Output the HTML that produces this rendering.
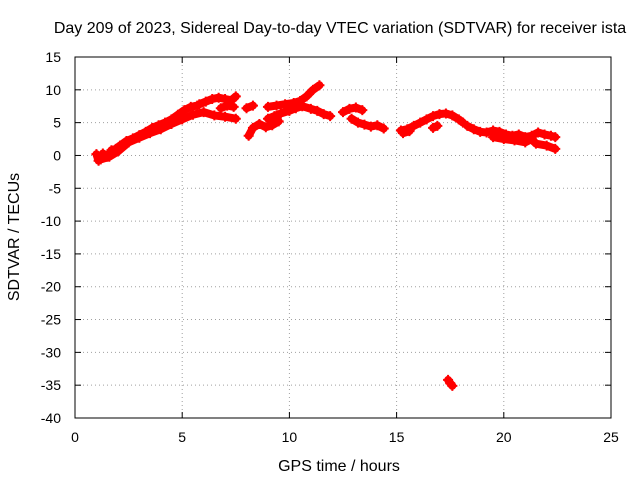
<!DOCTYPE html>
<html><head><meta charset="utf-8"><style>
body{margin:0;background:#fff}
svg{display:block;font-family:"Liberation Sans",sans-serif}
</style></head><body>
<svg id="chart" width="640" height="480">
<text x="340" y="33" font-size="16" text-anchor="middle">Day 209 of 2023, Sidereal Day-to-day VTEC variation (SDTVAR) for receiver ista</text>
<text x="339" y="471" font-size="16" text-anchor="middle">GPS time / hours</text>
<text transform="translate(19,237) rotate(-90)" font-size="16" text-anchor="middle">SDTVAR / TECUs</text>
<g id="grid"></g><g id="ticks"></g><g id="marks"></g>
<rect x="75" y="57" width="536" height="361" fill="none" stroke="#000" stroke-width="1"/>
</svg>
<script>
const xTicks=[0,5,10,15,20,25];
const yTicks=[15,10,5,0,-5,-10,-15,-20,-25,-30,-35,-40];
const seg1T=[1.0,1.1,1.3,1.5,1.7,1.9,2.1,2.4,2.7,3.0,3.3,3.6,3.9,4.2,4.5,4.8,5.1,5.4,5.7];
const seg1V=[0.2,-0.8,0.3,-0.2,0.8,1.0,1.5,2.2,2.6,3.1,3.6,4.2,4.6,5.0,5.5,6.2,6.9,7.4,7.6];
const seg2T=[1.2,1.6,2.0,2.5,3.0,3.5,4.0,4.5,5.0,5.5,6.0,6.5,7.0,7.5];
const seg2V=[-0.6,-0.2,0.6,2.0,2.7,3.4,4.0,4.8,5.5,6.2,6.6,6.1,5.9,5.6];
const seg3T=[5.8,6.1,6.4,6.7,7.0,7.3,7.5];
const seg3V=[7.8,8.2,8.6,8.8,8.6,8.4,9.0];
const seg4T=[6.8,7.1,7.4];
const seg4V=[7.2,7.6,7.4];
const seg5T=[8.0,8.3];
const seg5V=[7.2,7.6];
const seg6T=[8.1,8.3,8.6,8.9,9.2,9.5];
const seg6V=[3.0,4.2,4.8,4.3,4.6,5.2];
const seg7T=[9.0,9.3,9.6,10.0,10.3,10.6,11.0,11.3,11.6,11.9];
const seg7V=[5.6,6.0,6.4,6.8,7.2,7.5,7.1,6.8,6.3,6.0];
const seg8T=[9.0,9.4,9.8,10.2,10.5,10.8,11.1,11.4];
const seg8V=[7.4,7.6,7.8,8.0,8.3,9.0,10.0,10.7];
const seg9T=[12.5,12.8,13.1,13.4];
const seg9V=[6.6,7.1,7.3,6.9];
const seg10T=[12.9,13.2,13.5,13.8,14.1,14.4];
const seg10V=[5.6,5.0,4.7,4.4,4.6,4.1];
const seg11T=[15.2,15.5,15.8,16.1,16.4,16.7,17.0,17.3,17.6,17.9,18.1];
const seg11V=[3.8,4.0,4.5,5.0,5.5,6.0,6.3,6.4,6.1,5.5,5.0];
const seg12T=[15.3,15.6];
const seg12V=[3.4,3.7];
const seg13T=[16.7,16.9];
const seg13V=[4.2,4.5];
const seg14T=[17.4,17.5,17.6];
const seg14V=[-34.2,-34.7,-35.1];
const seg15T=[18.3,18.6,18.9,19.2,19.5,19.8,20.1,20.4,20.7,21.0,21.3,21.6,21.9,22.2,22.4];
const seg15V=[4.5,4.0,3.6,3.5,3.8,3.6,3.2,3.0,3.2,2.8,3.0,3.5,3.2,3.0,2.8];
const seg16T=[19.5,20.0,20.5,21.0,21.3,21.5,22.0,22.4];
const seg16V=[2.8,2.5,2.3,2.0,2.5,1.8,1.5,1.0];
const segments=[[seg1T,seg1V],[seg2T,seg2V],[seg3T,seg3V],[seg4T,seg4V],[seg5T,seg5V],[seg6T,seg6V],[seg7T,seg7V],[seg8T,seg8V],[seg9T,seg9V],[seg10T,seg10V],[seg11T,seg11V],[seg12T,seg12V],[seg13T,seg13V],[seg14T,seg14V],[seg15T,seg15V],[seg16T,seg16V]];
const X0=75,X1=611,Y0=57,Y1=418;
function xs(v){return X0+(v-0)/25*(X1-X0);}
function ys(v){return Y0+(15-v)/55*(Y1-Y0);}
const NS="http://www.w3.org/2000/svg";
function mk(tag,attrs,parent){const e=document.createElementNS(NS,tag);for(const k in attrs)e.setAttribute(k,attrs[k]);parent.appendChild(e);return e;}
const grid=document.getElementById('grid'),ticks=document.getElementById('ticks'),marks=document.getElementById('marks');
xTicks.forEach(t=>{const x=xs(t);
 if(t>0&&t<25){const g=mk('line',{x1:x,x2:x,y1:Y0,y2:Y1,stroke:'#a0a0a0','stroke-dasharray':'1,3'},grid);
 
 }
 mk('line',{x1:x,x2:x,y1:Y1,y2:Y1-6,stroke:'#000'},ticks);
 mk('line',{x1:x,x2:x,y1:Y0,y2:Y0+6,stroke:'#000'},ticks);
 const l=mk('text',{x:x,y:Y1+24,'font-size':14,'text-anchor':'middle'},ticks);l.textContent=t;
 
 
});
yTicks.forEach(t=>{const y=ys(t);
 if(t<15&&t>-40){const g=mk('line',{x1:X0,x2:X1,y1:y,y2:y,stroke:'#a0a0a0','stroke-dasharray':'1,3'},grid);
 
 }
 mk('line',{x1:X0,x2:X0+6,y1:y,y2:y,stroke:'#000'},ticks);
 mk('line',{x1:X1,x2:X1-6,y1:y,y2:y,stroke:'#000'},ticks);
 const l=mk('text',{x:X0-14,y:y+5,'font-size':14,'text-anchor':'end'},ticks);l.textContent=t;
 
 
});
segments.forEach(([T,V])=>{
 const pts=T.map((t,i)=>xs(t)+','+ys(V[i])).join(' ');
 if(T.length>1){const pl=mk('polyline',{points:pts,fill:'none',stroke:'#f00','stroke-width':8,'stroke-linejoin':'round','stroke-linecap':'round'},marks);
 
 }
 T.forEach((t,i)=>{const x=xs(t),y=ys(V[i]);
  const p=mk('path',{d:`M${x-5},${y}H${x+5}M${x},${y-5}V${y+5}`,stroke:'#f00','stroke-width':2},marks);
  
  
 });
});
</script>
</body></html>
